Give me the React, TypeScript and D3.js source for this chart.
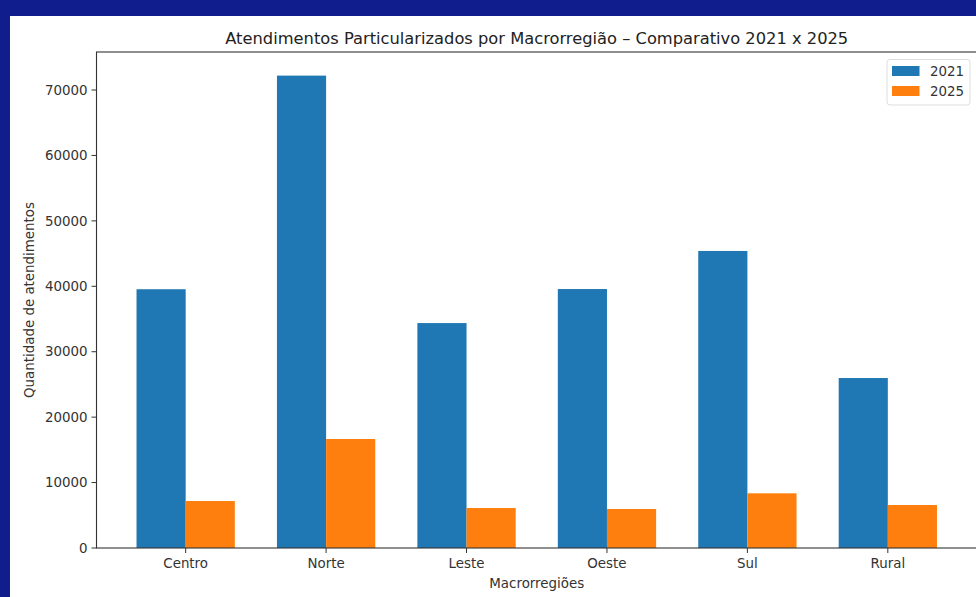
import React from "react";
import * as d3 from "d3";

const categories = ["Centro", "Norte", "Leste", "Oeste", "Sul", "Rural"];
const values2021 = [39550, 72200, 34380, 39580, 45400, 25980];
const values2025 = [7180, 16660, 6110, 5960, 8360, 6570];
const yTicks = [0, 10000, 20000, 30000, 40000, 50000, 60000, 70000];
const seriesNames = ["2021", "2025"];
const colors = ["#1f77b4", "#ff7f0e"];

const W = 976;
const H = 597;
const left = 96.5;
const right = 977;
const top = 52;
const bottom = 548;
const barW = 0.35;

export default function App() {
  const x = d3.scaleLinear().domain([-0.635, 5.635]).range([left, right]);
  const y = d3.scaleLinear().domain([0, 72200 * 1.05]).range([bottom, top]);
  const font = "DejaVu Sans, sans-serif";
  const tc = "#333";
  const fs = 13.4;
  return (
    <div style={{ position: "fixed", left: 0, top: 0 }}>
      <svg width={W} height={H} style={{ display: "block" }}>
        <rect x={0} y={0} width={W} height={H} fill="#0f1e8c" />
        <rect x={10} y={16} width={W - 10} height={H - 16} fill="#ffffff" />
        {categories.map((c, i) => (
          <g key={c}>
            <rect
              x={x(i - barW)}
              y={y(values2021[i])}
              width={x(i) - x(i - barW)}
              height={y(0) - y(values2021[i])}
              fill={colors[0]}
            />
            <rect
              x={x(i)}
              y={y(values2025[i])}
              width={x(i + barW) - x(i)}
              height={y(0) - y(values2025[i])}
              fill={colors[1]}
            />
          </g>
        ))}
        <rect x={left} y={top} width={right - left} height={bottom - top} fill="none" stroke="#333" strokeWidth={1.1} />
        {yTicks.map((t) => (
          <g key={t}>
            <line x1={left - 5} x2={left} y1={y(t)} y2={y(t)} stroke="#333" strokeWidth={1} />
            <text x={left - 9} y={y(t)} dy="0.35em" textAnchor="end" fontFamily={font} fontSize={fs} fill={tc}>
              {t}
            </text>
          </g>
        ))}
        {categories.map((c, i) => (
          <g key={c}>
            <line x1={x(i)} x2={x(i)} y1={bottom} y2={bottom + 5} stroke="#333" strokeWidth={1} />
            <text x={x(i)} y={bottom + 19.5} textAnchor="middle" fontFamily={font} fontSize={fs} fill={tc}>
              {c}
            </text>
          </g>
        ))}
        <text x={(left + right) / 2} y={44} textAnchor="middle" fontFamily={font} fontSize={16.3} fill="#222">
          Atendimentos Particularizados por Macrorregião – Comparativo 2021 x 2025
        </text>
        <text x={(left + right) / 2} y={588} textAnchor="middle" fontFamily={font} fontSize={fs} fill={tc}>
          Macrorregiões
        </text>
        <text
          transform={`translate(34,${(top + bottom) / 2}) rotate(-90)`}
          textAnchor="middle"
          fontFamily={font}
          fontSize={fs}
          fill={tc}
        >
          Quantidade de atendimentos
        </text>
        <g>
          <rect x={887} y={59.5} width={83} height={45.5} rx={3} fill="#fff" stroke="#ddd" strokeWidth={1} />
          {seriesNames.map((s, i) => (
            <g key={s}>
              <rect x={892} y={66 + i * 20} width={27.5} height={10} fill={colors[i]} />
              <text x={930} y={71 + i * 20} dy="0.35em" fontFamily={font} fontSize={fs} fill={tc}>
                {s}
              </text>
            </g>
          ))}
        </g>
      </svg>
    </div>
  );
}
